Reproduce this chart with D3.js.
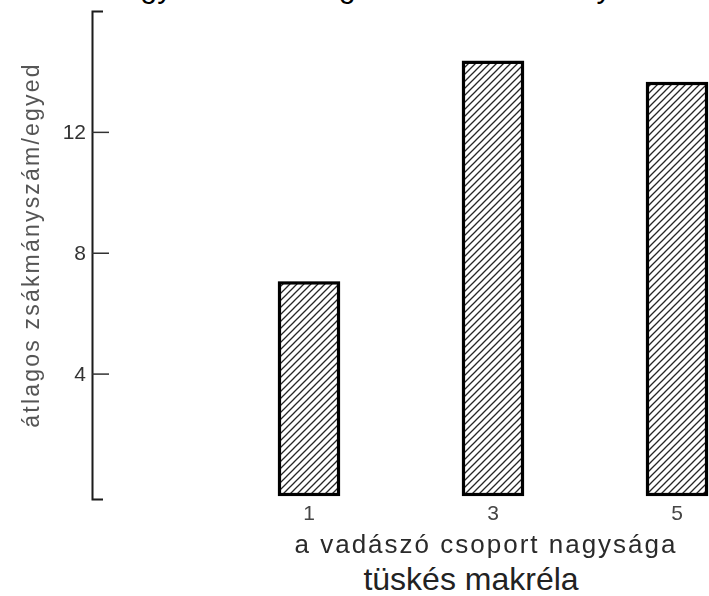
<!DOCTYPE html>
<html>
<head>
<meta charset="utf-8">
<script src="https://cdn.jsdelivr.net/npm/d3@7/dist/d3.min.js"></script>
<style>
  html, body { margin: 0; padding: 0; background: #fff; }
  svg { display: block; }
</style>
</head>
<body>
<script>
// Group size of hunting fish and average prey caught per individual
const categories = [1, 3, 5];
const values = [7.0, 14.3, 13.6];
const yTicks = [4, 8, 12];
const yAxisMin = -0.15;
const yAxisMax = 16;

const titleText = "Egyedenkénti fogás a létszám arányában";
const xTitle = "a vadászó csoport nagysága";
const yTitle = "átlagos zsákmányszám/egyed";
const caption = "tüskés makréla";

const W = 709, H = 596;
const font = "'Liberation Sans', Arial, Helvetica, sans-serif";

const svg = d3.select("body").append("svg")
  .attr("width", W).attr("height", H);

svg.append("rect").attr("width", W).attr("height", H).attr("fill", "#fff");

const defs = svg.append("defs");

// diagonal hatch fill
const step = 7;
const pat = defs.append("pattern")
  .attr("id", "hatch")
  .attr("patternUnits", "userSpaceOnUse")
  .attr("width", step).attr("height", step);
pat.append("path")
  .attr("d", `M-1,1 l2,-2 M0,${step} l${step},-${step} M${step - 1},${step + 1} l2,-2`)
  .attr("stroke", "#262626")
  .attr("stroke-width", 1.3);

// slight softness of the printed figure
const soft = defs.append("filter").attr("id", "soft");
soft.append("feGaussianBlur").attr("stdDeviation", 0.45);

const x = d3.scaleLinear().domain([1, 5]).range([309, 677]);
const y = d3.scaleLinear().domain([yAxisMin, yAxisMax]).range([499, 11]);

// heading, mostly above the visible area
svg.append("text")
  .attr("x", 120).attr("y", -3)
  .attr("font-family", font)
  .attr("font-size", 30.5)
  .attr("fill", "#000")
  .text(titleText);

const plot = svg.append("g").attr("filter", "url(#soft)");

// bars
const barW = 59;
plot.selectAll("rect.bar")
  .data(categories.map((c, i) => ({ c, v: values[i] })))
  .join("rect")
  .attr("class", "bar")
  .attr("x", d => x(d.c) - barW / 2)
  .attr("width", barW)
  .attr("y", d => y(d.v))
  .attr("height", d => y(0) - y(d.v))
  .attr("fill", "url(#hatch)")
  .attr("stroke", "#000")
  .attr("stroke-width", 3.2);

// y axis with inward ticks and bracketed ends
const yAxis = d3.axisLeft(y)
  .tickValues(yTicks)
  .tickSizeInner(-17)
  .tickSizeOuter(-11)
  .tickPadding(6)
  .tickFormat(d3.format("d"));

const ga = plot.append("g")
  .attr("transform", "translate(92,0)")
  .call(yAxis);
ga.select(".domain").attr("stroke", "#1a1a1a").attr("stroke-width", 2);
ga.selectAll(".tick line").attr("stroke", "#333").attr("stroke-width", 1.5);
ga.selectAll(".tick text")
  .attr("font-family", font)
  .attr("font-size", 21)
  .attr("fill", "#333");

// category labels
plot.selectAll("text.cat")
  .data(categories)
  .join("text")
  .attr("class", "cat")
  .attr("x", d => x(d))
  .attr("y", 520)
  .attr("text-anchor", "middle")
  .attr("font-family", font)
  .attr("font-size", 21)
  .attr("fill", "#444")
  .text(d => d);

// axis titles
plot.append("text")
  .attr("x", 486).attr("y", 553)
  .attr("text-anchor", "middle")
  .attr("font-family", font)
  .attr("font-size", 26)
  .attr("letter-spacing", 2)
  .attr("fill", "#2a2a2a")
  .text(xTitle);

plot.append("text")
  .attr("transform", "translate(39,245) rotate(-90)")
  .attr("text-anchor", "middle")
  .attr("font-family", font)
  .attr("font-size", 23)
  .attr("letter-spacing", 2.2)
  .attr("fill", "#555")
  .text(yTitle);

// species caption
svg.append("text")
  .attr("x", 471).attr("y", 590)
  .attr("text-anchor", "middle")
  .attr("font-family", font)
  .attr("font-size", 32)
  .attr("fill", "#222")
  .text(caption);
</script>
</body>
</html>
